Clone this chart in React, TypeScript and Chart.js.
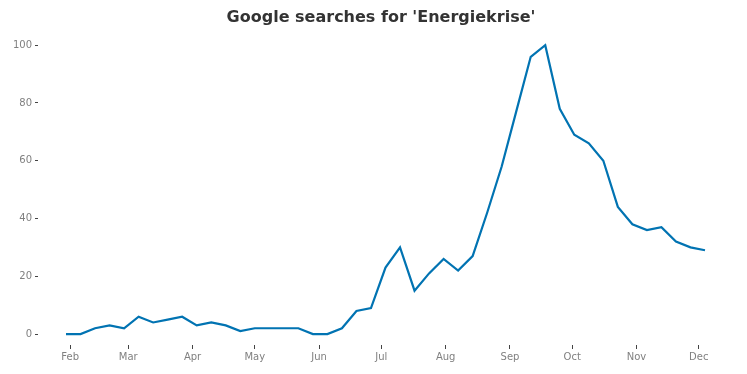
import React, { useEffect, useRef } from "react";
import { Chart, registerables } from "chart.js";

Chart.register(...registerables);

const TITLE = "Google searches for 'Energiekrise'";

const weekDates: string[] = [
  "2022-01-30", "2022-02-06", "2022-02-13", "2022-02-20", "2022-02-27",
  "2022-03-06", "2022-03-13", "2022-03-20", "2022-03-27",
  "2022-04-03", "2022-04-10", "2022-04-17", "2022-04-24",
  "2022-05-01", "2022-05-08", "2022-05-15", "2022-05-22", "2022-05-29",
  "2022-06-05", "2022-06-12", "2022-06-19", "2022-06-26",
  "2022-07-03", "2022-07-10", "2022-07-17", "2022-07-24", "2022-07-31",
  "2022-08-07", "2022-08-14", "2022-08-21", "2022-08-28",
  "2022-09-04", "2022-09-11", "2022-09-18", "2022-09-25",
  "2022-10-02", "2022-10-09", "2022-10-16", "2022-10-23", "2022-10-30",
  "2022-11-06", "2022-11-13", "2022-11-20", "2022-11-27",
  "2022-12-04",
];

const searchValues: number[] = [
  0, 0, 2, 3, 2,
  6, 4, 5, 6,
  3, 4, 3, 1,
  2, 2, 2, 2, 0,
  0, 2, 8, 9,
  23, 30, 15, 21, 26,
  22, 27, 42, 58,
  77, 96, 100, 78,
  69, 66, 60, 44, 38,
  36, 37, 32, 30,
  29,
];

const monthTickDates: string[] = [
  "2022-02-01", "2022-03-01", "2022-04-01", "2022-05-01", "2022-06-01",
  "2022-07-01", "2022-08-01", "2022-09-01", "2022-10-01", "2022-11-01", "2022-12-01",
];
const monthTickLabels: string[] = ["Feb", "Mar", "Apr", "May", "Jun", "Jul", "Aug", "Sep", "Oct", "Nov", "Dec"];

const yTickValues: number[] = [0, 20, 40, 60, 80, 100];

const dayOfYear = (s: string) => {
  const [y, m, d] = s.split("-").map(Number);
  return (Date.UTC(y, m - 1, d) - Date.UTC(y, 0, 1)) / 86400000;
};

export default function App() {
  const ref = useRef<HTMLCanvasElement | null>(null);

  useEffect(() => {
    if (!ref.current) return;
    const points = weekDates.map((d, i) => ({ x: dayOfYear(d), y: searchValues[i] }));
    const monthDays = monthTickDates.map(dayOfYear);

    const titlePlugin = {
      id: "customTitle",
      afterDraw(chart: any) {
        const { ctx } = chart;
        ctx.save();
        ctx.font = "bold 16px 'DejaVu Sans'";
        ctx.fillStyle = "#333333";
        ctx.textAlign = "center";
        ctx.textBaseline = "middle";
        ctx.fillText(TITLE, 381, 18);
        ctx.restore();
      },
    };

    const chart = new Chart(ref.current, {
      type: "line",
      data: {
        datasets: [
          {
            data: points,
            borderColor: "#0173b2",
            borderWidth: 2.2,
            pointRadius: 0,
            tension: 0,
            fill: false,
          },
        ],
      },
      options: {
        animation: false,
        responsive: false,
        maintainAspectRatio: false,
        layout: { padding: { top: 38, right: 14, left: 0, bottom: 0 } },
        plugins: {
          legend: { display: false },
          tooltip: { enabled: false },
          title: { display: false },
        },
        scales: {
          x: {
            type: "linear",
            min: 15.5,
            max: 350.5,
            afterBuildTicks: (scale: any) => {
              scale.ticks = monthDays.map((v) => ({ value: v }));
            },
            afterFit: (scale: any) => {
              scale.height = 29;
            },
            ticks: {
              autoSkip: false,
              maxRotation: 0,
              padding: 2,
              color: "#808080",
              font: { family: "'DejaVu Sans'", size: 10 },
              callback: (value: any) => {
                const idx = monthDays.indexOf(Number(value));
                return idx >= 0 ? monthTickLabels[idx] : "";
              },
            },
            grid: {
              drawOnChartArea: false,
              drawTicks: true,
              tickLength: 4,
              color: "#444444",
              lineWidth: 1,
            },
            border: { display: false },
          },
          y: {
            type: "linear",
            min: -3.8,
            max: 102.5,
            afterBuildTicks: (scale: any) => {
              scale.ticks = yTickValues.map((v) => ({ value: v }));
            },
            afterFit: (scale: any) => {
              scale.width = 38;
            },
            ticks: {
              padding: 3,
              color: "#808080",
              font: { family: "'DejaVu Sans'", size: 10 },
              callback: (value: any) => String(value),
            },
            grid: {
              drawOnChartArea: false,
              drawTicks: true,
              tickLength: 3,
              color: "#444444",
              lineWidth: 1,
            },
            border: { display: false },
          },
        },
      },
      plugins: [titlePlugin],
    } as any);

    return () => chart.destroy();
  }, []);

  return (
    <div style={{ position: "fixed", left: 0, top: 0, width: 747, height: 374, background: "#ffffff" }}>
      <canvas ref={ref} width={747} height={374} style={{ width: 747, height: 374, display: "block" }} />
    </div>
  );
}
